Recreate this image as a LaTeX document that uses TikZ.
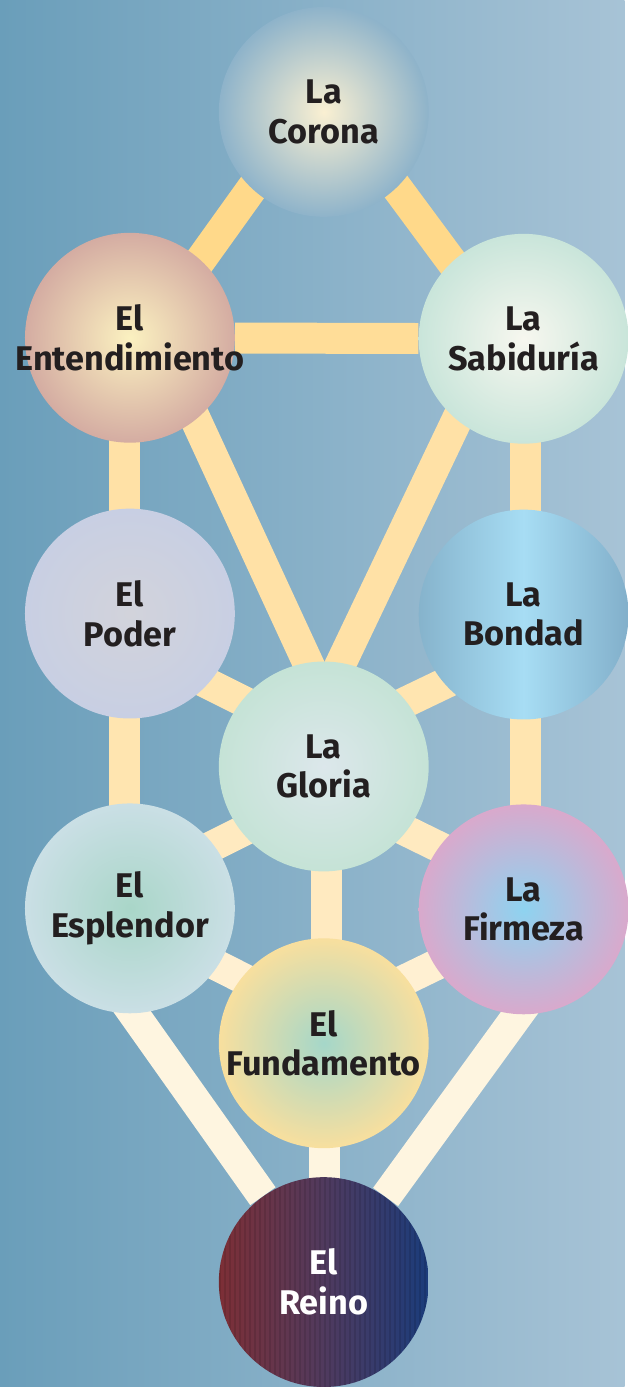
\documentclass[tikz,border=0pt]{standalone}
\usepackage{fontspec}
\setmainfont{Fira Sans}
\usetikzlibrary{calc}

\definecolor{bgleft}{HTML}{6A9EBA}
\definecolor{bgright}{HTML}{A7C3D6}
\definecolor{ink}{HTML}{231F20}
\definecolor{linkA}{HTML}{FFD98A}
\definecolor{linkB}{HTML}{FFDD98}
\definecolor{linkC}{HTML}{FFE1A6}
\definecolor{linkD}{HTML}{FFE5B0}
\definecolor{linkE}{HTML}{FFEAC0}
\definecolor{linkF}{HTML}{FFF0D2}
\definecolor{linkG}{HTML}{FEF5E0}

\pgfdeclarelayer{backdrop}
\pgfdeclarelayer{links}
\pgfsetlayers{backdrop,links,main}

\begin{document}
\begin{tikzpicture}[
  sefira/.style={circle, minimum size=4.2cm, inner sep=-0.5cm, align=center,
    text=ink, font=\fontsize{19.5}{22.6}\selectfont\bfseries},
  link/.style={line width=0.62cm}]
\begin{pgfonlayer}{backdrop}
\shade[left color=bgleft, right color=bgright] (0,0) rectangle (12.5,-27.74);
\end{pgfonlayer}

\node[sefira, inner color={rgb,255:red,250;green,240;blue,210}, outer color={rgb,255:red,142;green,179;blue,202}] (corona) at (6.48,-2.24) {La\\Corona};
\node[sefira, inner color={rgb,255:red,251;green,241;blue,192}, outer color={rgb,255:red,212;green,172;blue,162}] (entend) at (2.6,-6.76) {El\\Entendimiento};
\node[sefira, inner color={rgb,255:red,247;green,247;blue,239}, outer color={rgb,255:red,201;green,229;blue,218}] (sabid) at (10.48,-6.78) {La\\Sabidur\'ia};
\node[sefira, inner color={rgb,255:red,210;green,211;blue,219}, outer color={rgb,255:red,200;green,207;blue,227}] (poder) at (2.6,-12.28) {El\\Poder};
\node[sefira, left color={rgb,255:red,134;green,179;blue,204}, right color={rgb,255:red,130;green,175;blue,202}, middle color={rgb,255:red,167;green,221;blue,244}] (bondad) at (10.48,-12.3) {La\\Bondad};
\node[sefira, inner color={rgb,255:red,220;green,231;blue,235}, outer color={rgb,255:red,197;green,227;blue,214}] (gloria) at (6.48,-15.34) {La\\Gloria};
\node[sefira, inner color={rgb,255:red,169;green,214;blue,200}, outer color={rgb,255:red,202;green,223;blue,229}] (esplend) at (2.6,-18.18) {El\\Esplendor};
\node[sefira, inner color={rgb,255:red,142;green,211;blue,240}, outer color={rgb,255:red,217;green,169;blue,204}] (firmeza) at (10.48,-18.2) {La\\Firmeza};
\node[sefira, inner color={rgb,255:red,165;green,215;blue,201}, outer color={rgb,255:red,248;green,223;blue,158}] (fundam) at (6.48,-20.88) {El\\Fundamento};
\node[sefira, text=white, left color={rgb,255:red,125;green,47;blue,54}, right color={rgb,255:red,27;green,60;blue,123}, middle color={rgb,255:red,80;green,58;blue,94}] (reino) at (6.48,-25.66) {};

% stripes on the last one
\begin{scope}
\clip (reino) circle (2.1);
\foreach \x in {-2.1,-2.0,...,2.1}
  \fill[black, opacity=0.1] ($(reino)+(\x,-2.1)$) rectangle ++(0.04,4.2);
\end{scope}
\node[sefira, text=white] (reinotxt) at (reino) {El\\Reino};

\begin{pgfonlayer}{links}
\draw[link, draw=linkA] ($(corona)+(-0.34,0)$) -- ($(entend)+(0.3,0)$);
\draw[link, draw=linkA] ($(corona)+(0.34,0)$) -- ($(sabid)+(-0.3,0)$);
\draw[link, draw=linkB] (entend) -- (sabid);
\draw[link, draw=linkC] ($(entend)+(-0.1,0)$) -- ($(poder)+(-0.1,0)$);
\draw[link, draw=linkC] ($(sabid)+(0.04,0)$) -- ($(bondad)+(0.04,0)$);
\draw[link, draw=linkC] ($(entend)+(0.56,0)$) -- ($(gloria)+(0.64,0)$);
\draw[link, draw=linkC] ($(sabid)+(-0.56,0)$) -- ($(gloria)+(-0.64,0)$);
\draw[link, draw=linkD] ($(poder)+(0,-0.62)$) -- ($(gloria)+(0,0.5)$);
\draw[link, draw=linkD] ($(bondad)+(0,-0.62)$) -- ($(gloria)+(0,0.5)$);
\draw[link, draw=linkD] ($(poder)+(-0.1,0)$) -- ($(esplend)+(-0.1,0)$);
\draw[link, draw=linkD] ($(bondad)+(0.04,0)$) -- ($(firmeza)+(0.04,0)$);
\draw[link, draw=linkE] ($(esplend)+(0,0.42)$) -- ($(gloria)+(0,-0.48)$);
\draw[link, draw=linkE] ($(firmeza)+(0,0.42)$) -- ($(gloria)+(0,-0.48)$);
\draw[link, draw=linkE] ($(gloria)+(0.06,0)$) -- ($(fundam)+(0.06,0)$);
\draw[link, draw=linkF] ($(esplend)+(0,-0.26)$) -- ($(fundam)+(0,0.48)$);
\draw[link, draw=linkF] ($(firmeza)+(0,-0.26)$) -- ($(fundam)+(0,0.48)$);
\draw[link, draw=linkG] ($(esplend)+(-1.42,0)$) -- (reino);
\draw[link, draw=linkG] ($(firmeza)+(1.42,0)$) -- (reino);
\draw[link, draw=linkG] ($(fundam)+(0.02,0)$) -- ($(reino)+(0.02,0)$);
\end{pgfonlayer}
\end{tikzpicture}
\end{document}
